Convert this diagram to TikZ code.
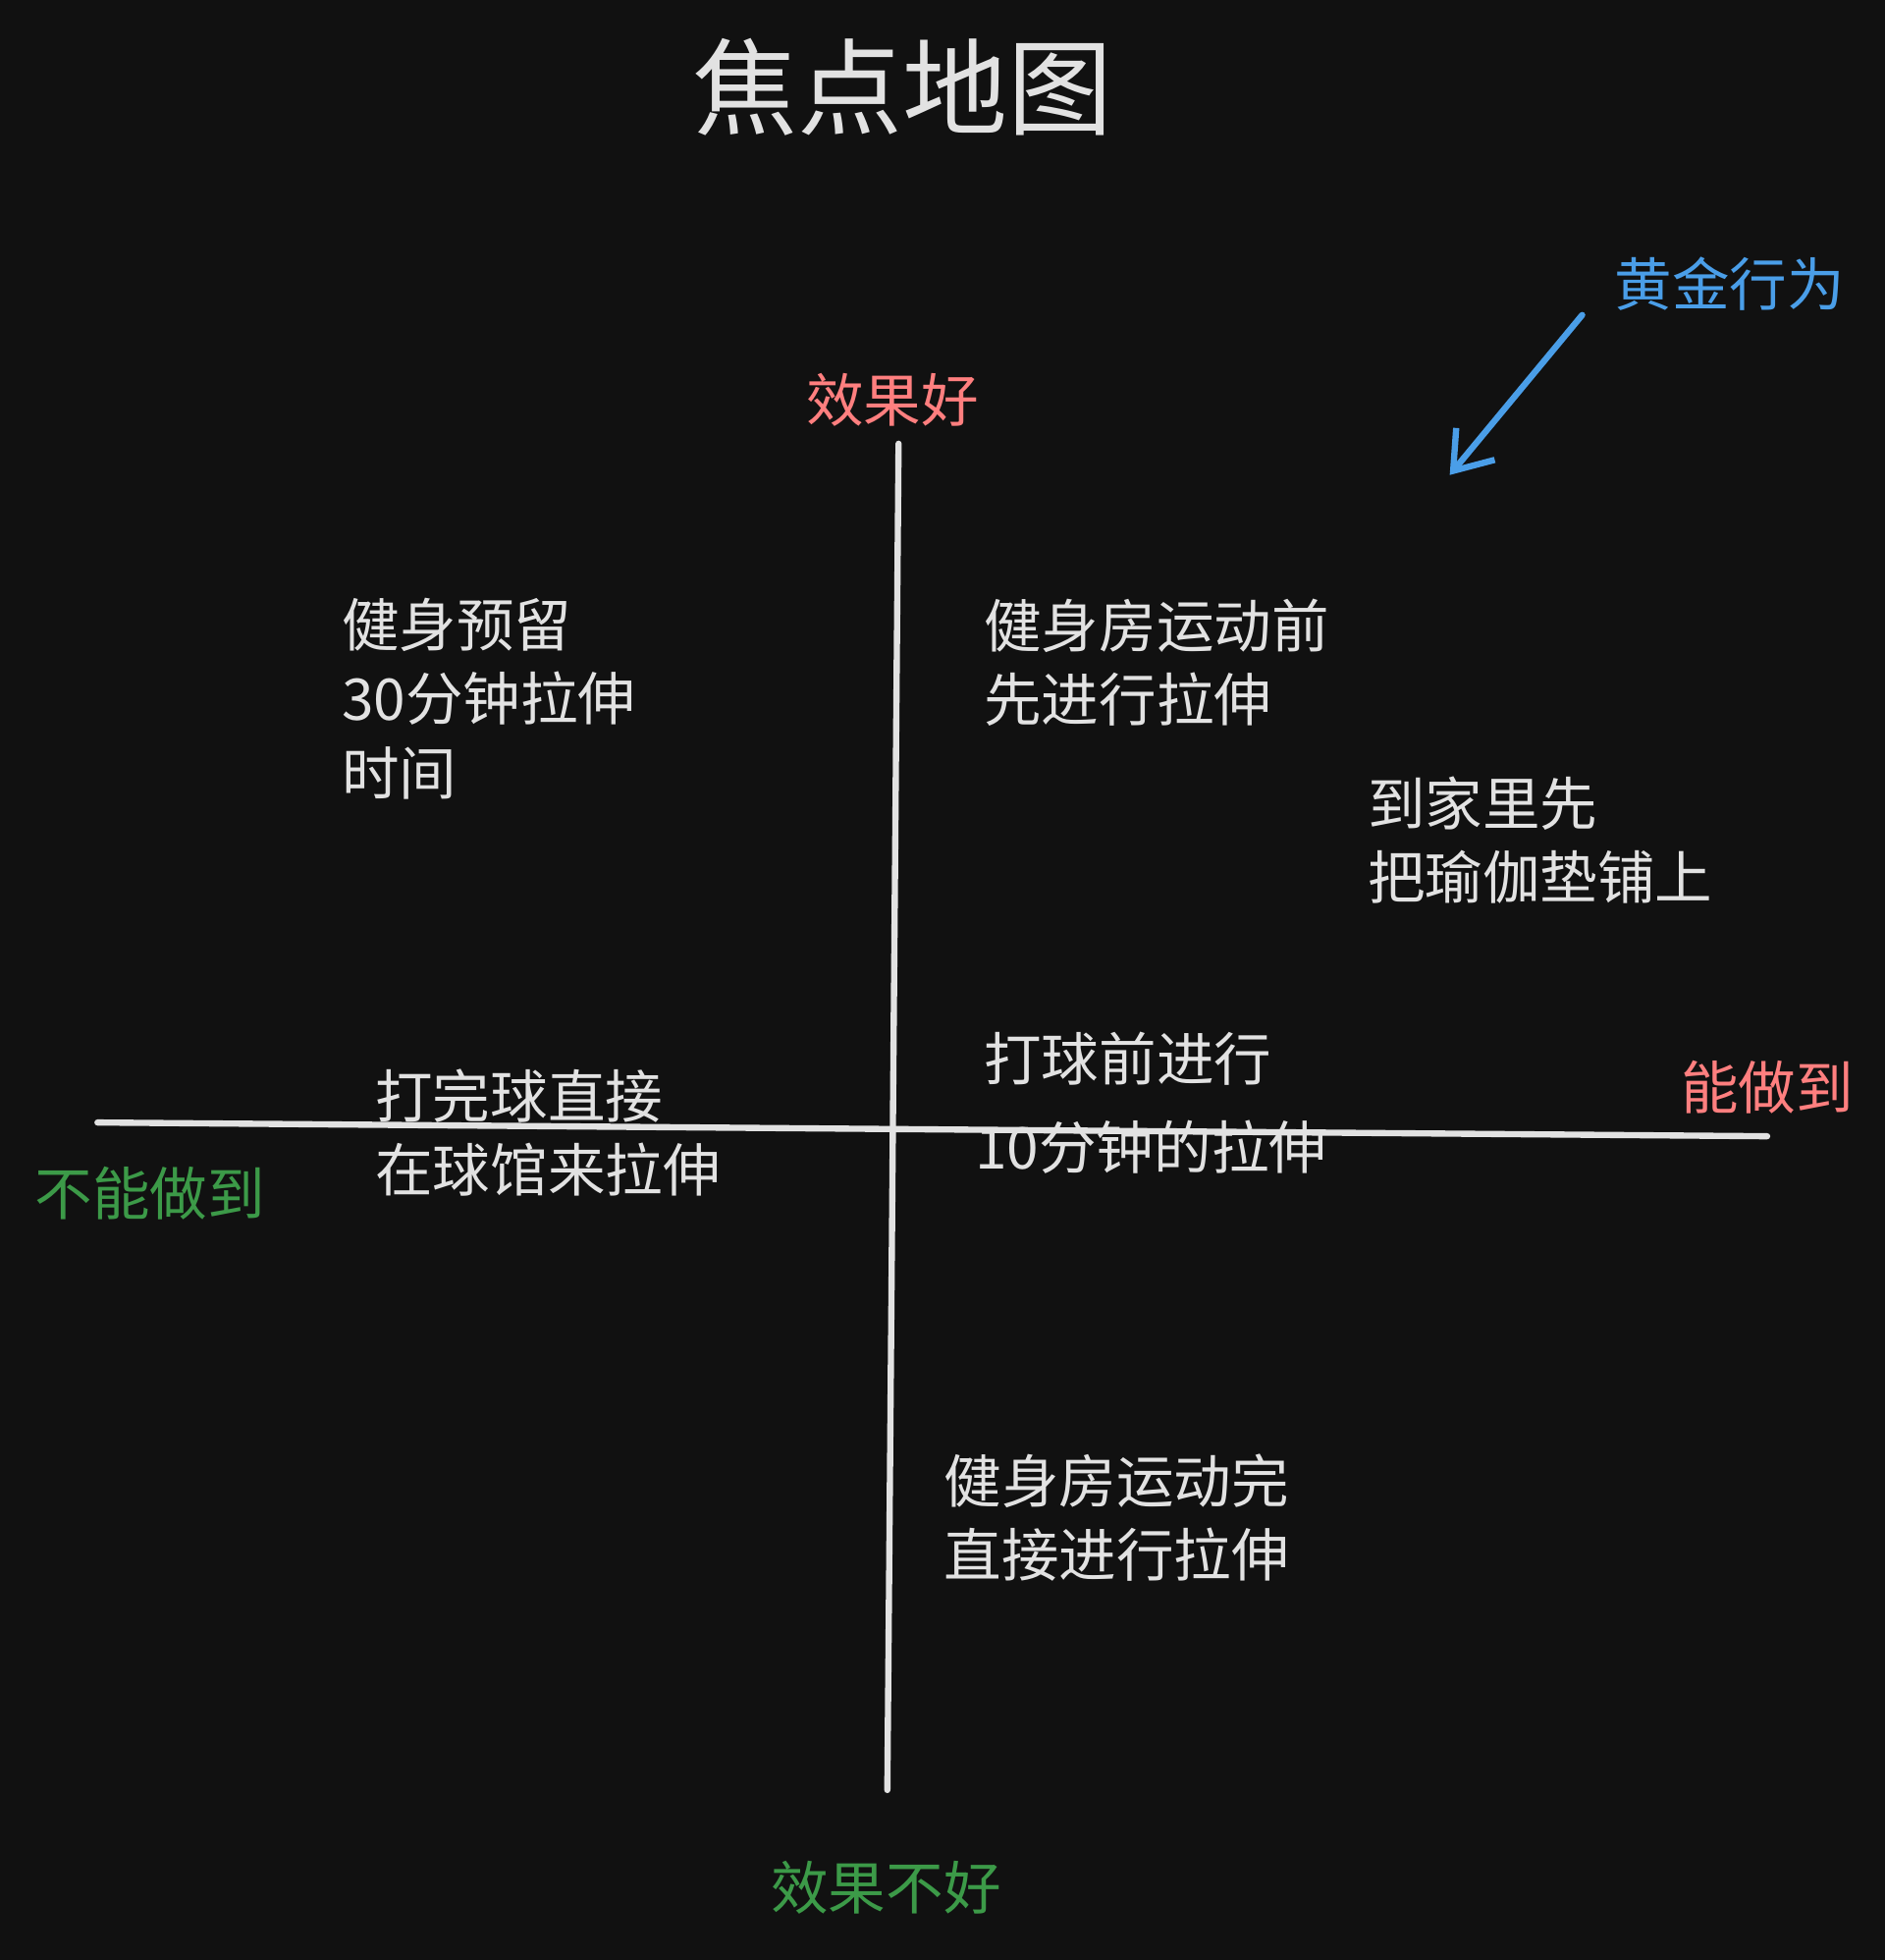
\documentclass[tikz,border=0pt]{standalone}
\usepackage{fontspec}
\setmainfont{Noto Sans CJK SC}
\usetikzlibrary{arrows.meta}
\definecolor{bg}{HTML}{111111}
\definecolor{fg}{HTML}{E2E2E2}
\definecolor{rd}{HTML}{FF7F7F}
\definecolor{gn}{HTML}{3C9A48}
\definecolor{bl}{HTML}{4A9EE8}
\begin{document}
\begin{tikzpicture}[x=0.5pt,y=-0.5pt,
  txt/.style={text=fg,font=\fontsize{23}{29.5}\selectfont,align=left,anchor=west,inner sep=0},
  lab/.style={font=\fontsize{23}{28}\selectfont,inner sep=0},
  axis/.style={draw=fg,line width=2.5pt,line cap=round}]
\fill[bg] (0,0) rectangle (1508,1568);
\useasboundingbox (0,0) rectangle (1508,1568);
\node[text=fg,font=\fontsize{42}{50}\selectfont] (title) at (722,70) {焦点地图};
\coordinate (hl) at (78,898); \coordinate (hr) at (1414,909);
\coordinate (vt) at (719,355); \coordinate (vb) at (710,1432);
\draw[axis] (hl) -- (hr);
\draw[axis] (vt) -- (vb);
\node[lab,text=rd] (good) at (714,320) {效果好};
\node[lab,text=gn] (bad) at (709,1510) {效果不好};
\node[lab,text=rd] (can) at (1414,870) {能做到};
\node[lab,text=gn] (cannot) at (120,955) {不能做到};
\node[lab,text=bl] (gold) at (1384,227) {黄金行为};
\coordinate (a1) at (1266,252); \coordinate (a2) at (1160,380);
\draw[bl,line width=2.5pt,line cap=round,-{Straight Barb[length=14pt,width=20pt]}] (a1) -- (a2);
\node[txt] (t1) at (273,559) {健身预留\\30分钟拉伸\\时间};
\node[txt] (t2) at (787,530) {健身房运动前\\先进行拉伸};
\node[txt] (t3) at (1094,672) {到家里先\\把瑜伽垫铺上};
\node[txt] (t4) at (787,847) {打球前进行};
\node[txt] (t5) at (780,918) {10分钟的拉伸};
\node[txt] (t6) at (300,906) {打完球直接\\在球馆来拉伸};
\node[txt] (t7) at (755,1214) {健身房运动完\\直接进行拉伸};
\end{tikzpicture}
\end{document}
